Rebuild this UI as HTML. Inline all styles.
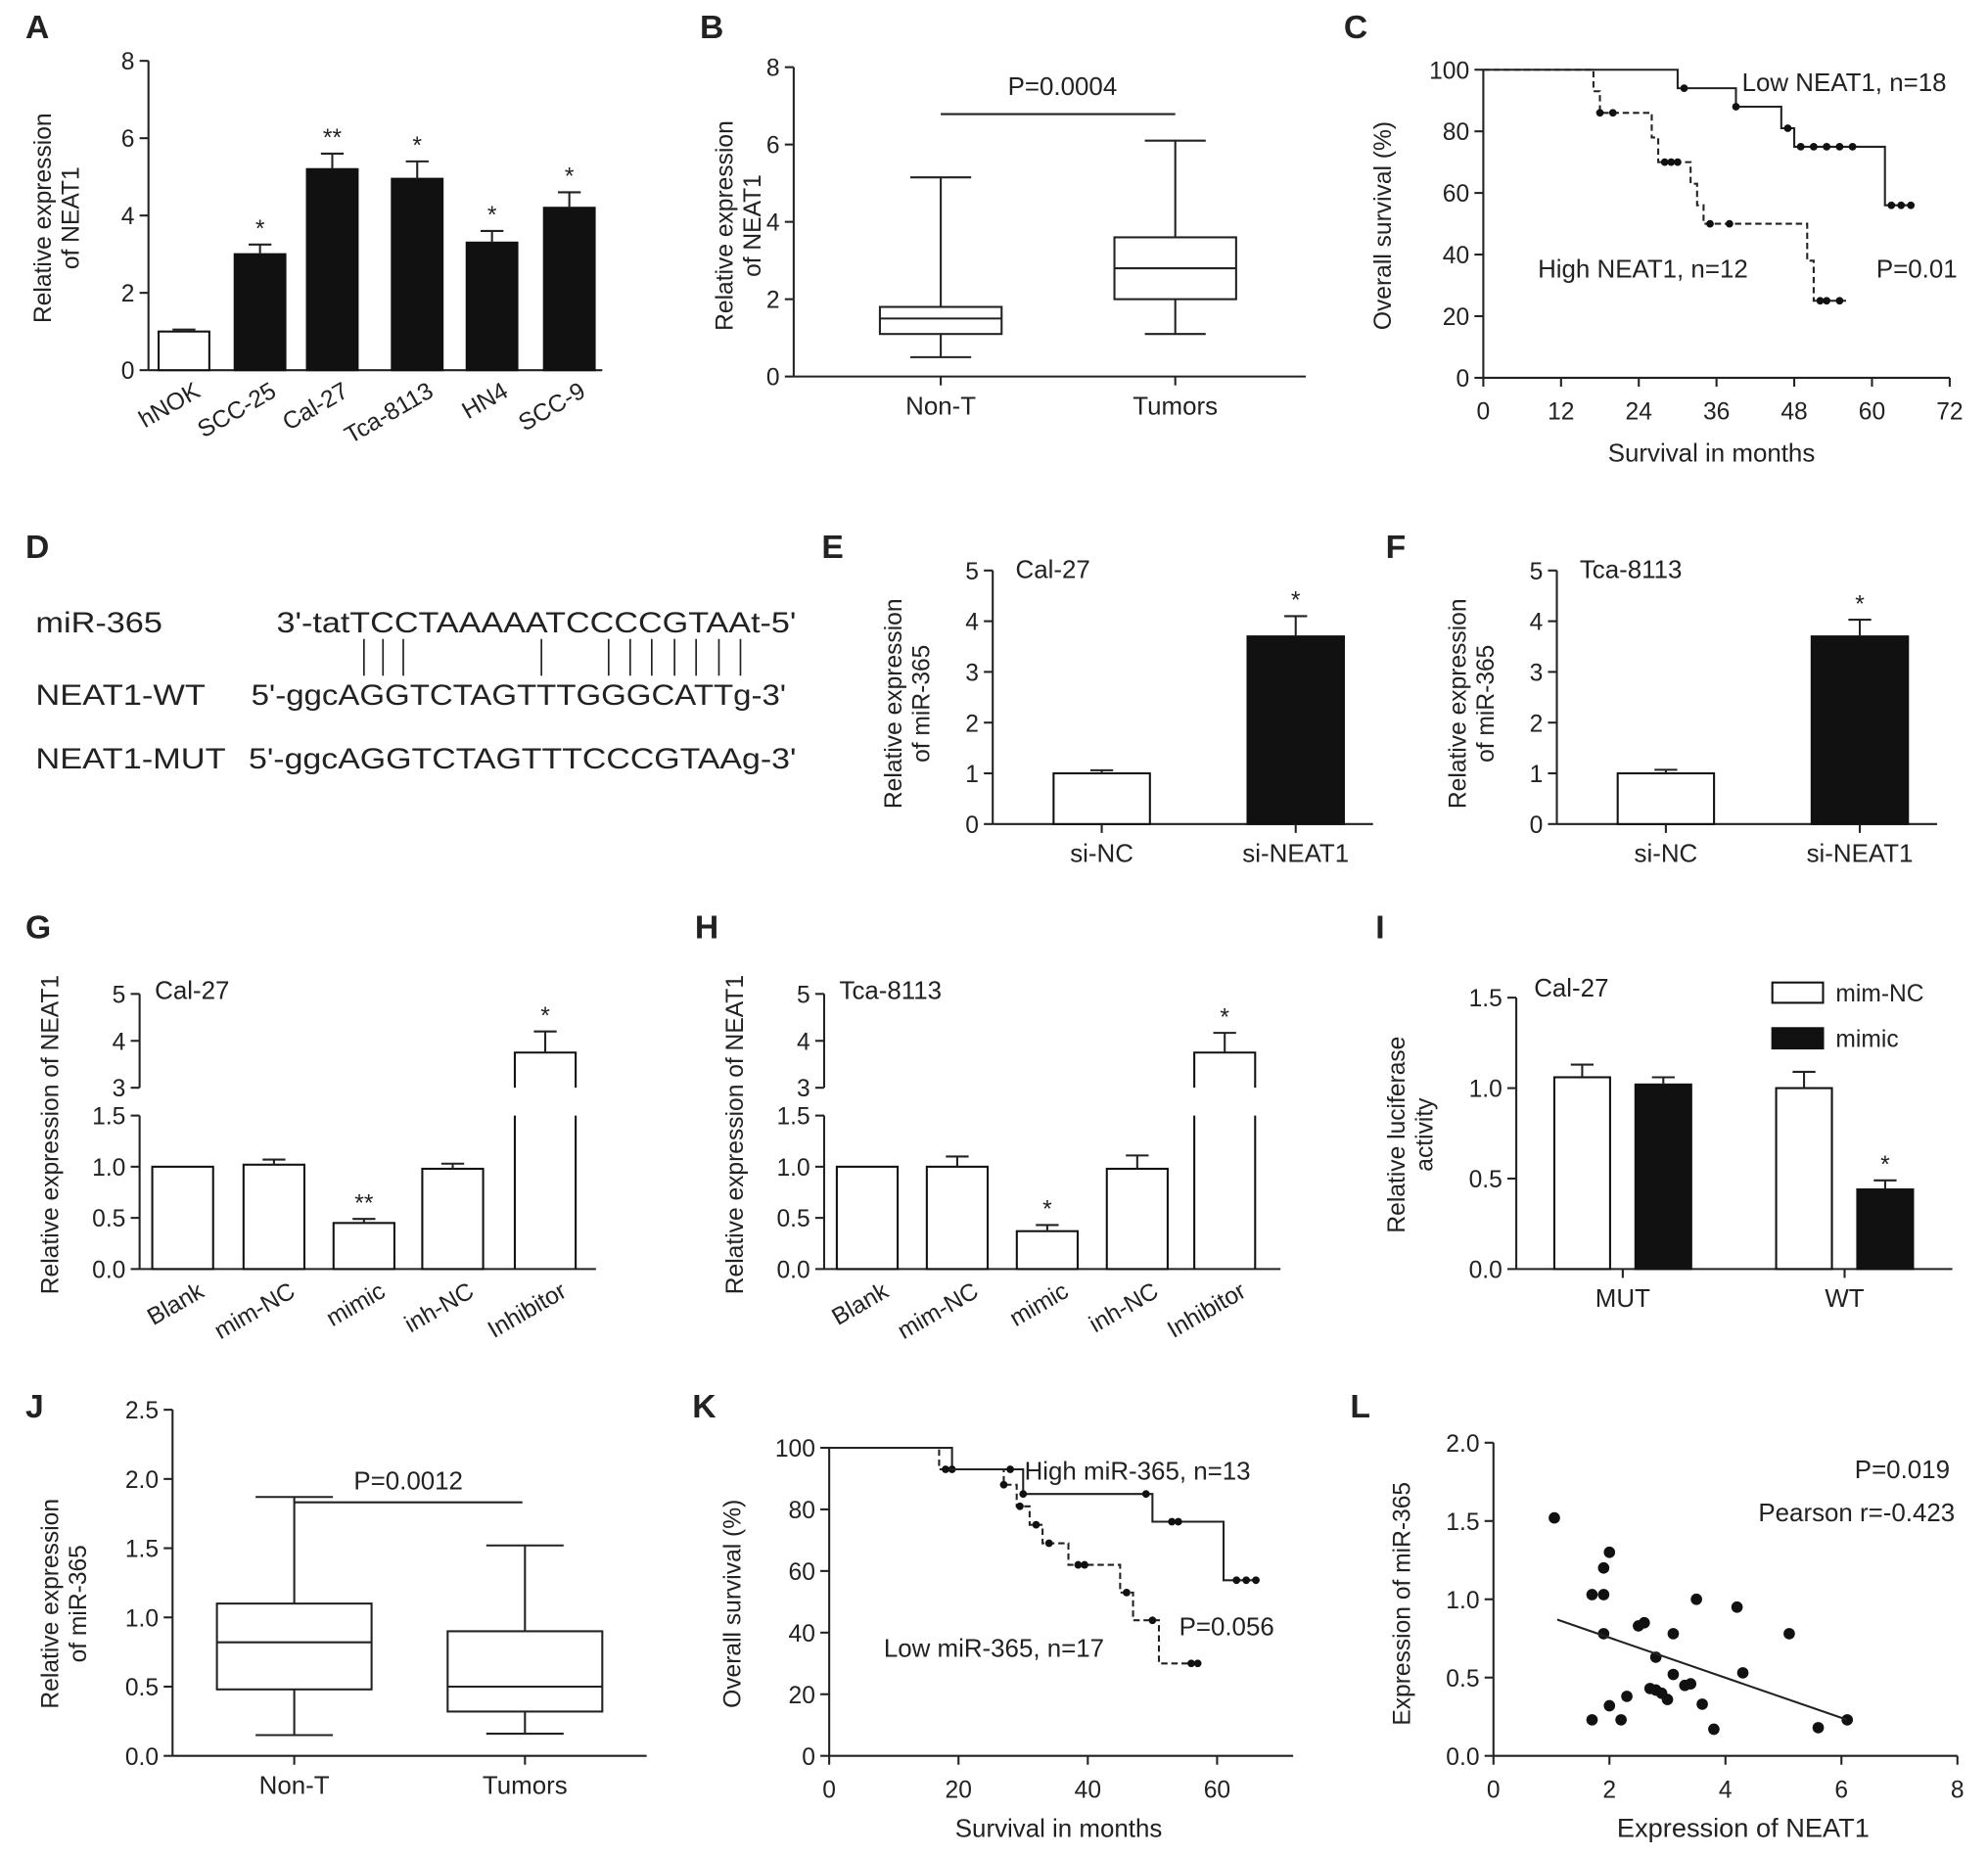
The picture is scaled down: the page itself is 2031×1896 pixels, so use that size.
<!DOCTYPE html>
<html><head><meta charset="utf-8"><style>
html,body{margin:0;padding:0;background:#fff}
svg{display:block}
text{font-family:"Liberation Sans",sans-serif;fill:#222}
</style></head><body>
<svg id="fig" width="2031" height="1896" viewBox="0 0 1568 1464" xmlns="http://www.w3.org/2000/svg"></svg>
<script>
// ---- Data ----
const aCats=["hNOK","SCC-25","Cal-27","Tca-8113","HN4","SCC-9"];
const aVals=[1.0,3.0,5.2,4.95,3.3,4.2];
const aErrs=[0.05,0.25,0.4,0.45,0.3,0.4];
const aStars=["","*","**","*","*","*"];
const bCats=["Non-T","Tumors"];
const bBox=[[0.5,1.1,1.5,1.8,5.15],[1.1,2.0,2.8,3.6,6.1]];
const cLow=[[0,100],[30,94],[39,88],[46,81],[48,75],[62,56],[66,56]];
const cLowCens=[31,39,47,49,51,53,55,57,63,64.5,66];
const cHigh=[[0,100],[17,93],[18,86],[26,78],[27,70],[32,63],[33,56],[34,50],[50,38],[51,25],[56,25]];
const cHighCens=[18,20,28,29,30,35,38,52,53,55];
const eCats=["si-NC","si-NEAT1"];
const eVals=[1.0,3.7];
const eErrs=[0.06,0.4];
const fVals=[1.0,3.7];
const fErrs=[0.07,0.33];
const gCats=["Blank","mim-NC","mimic","inh-NC","Inhibitor"];
const gVals=[1.0,1.02,0.45,0.98,3.75];
const gErrs=[0,0.05,0.04,0.05,0.45];
const gStars=["","","**","","*"];
const hVals=[1.0,1.0,0.37,0.98,3.75];
const hErrs=[0,0.1,0.06,0.13,0.42];
const hStars=["","","*","","*"];
const iCats=["MUT","WT"];
const iNC=[1.06,1.0];
const iNCErr=[0.07,0.09];
const iMim=[1.02,0.44];
const iMimErr=[0.04,0.05];
const jBox=[[0.15,0.48,0.82,1.1,1.87],[0.16,0.32,0.5,0.9,1.52]];
const kHigh=[[0,100],[19,93],[30,85],[50,76],[61,57],[66,57]];
const kHighCens=[19,28,30,49,53,54,63,64.5,66];
const kLow=[[0,100],[17,93],[27,88],[29,81],[31,75],[33,69],[37,62],[45,53],[47,44],[51,30],[57,30]];
const kLowCens=[18,27,29.5,32,34,38.5,39.5,46,50,56,57];
const lX=[1.05,1.7,1.9,1.9,2.0,1.9,1.7,2.0,2.2,2.3,2.5,2.6,2.7,2.8,2.8,2.9,3.0,3.1,3.1,3.3,3.5,3.6,3.4,3.8,4.2,4.3,5.1,5.6,6.1];
const lY=[1.52,1.03,1.03,1.2,1.3,0.78,0.23,0.32,0.23,0.38,0.83,0.85,0.43,0.63,0.42,0.4,0.36,0.52,0.78,0.45,1.0,0.33,0.46,0.17,0.95,0.53,0.78,0.18,0.23];
const lFit=[[1.1,0.87],[6.1,0.23]];

const svg=document.getElementById('fig');
const NS='http://www.w3.org/2000/svg';
function mk(tag,attrs,name,parent,txt){
  const el=document.createElementNS(NS,tag);
  for(const k in attrs)el.setAttribute(k,attrs[k]);
  
  
  if(txt!==undefined)el.textContent=txt;
  (parent||svg).appendChild(el);return el;
}
function line(x1,y1,x2,y2,name,extra){return mk('line',Object.assign({x1,y1,x2,y2,stroke:'#222','stroke-width':1.6},extra||{}),name);}
function text(x,y,s,name,opt){opt=opt||{};const a={x,y,'font-size':opt.fs||19,'text-anchor':opt.anchor||'middle'};if(opt.bold)a['font-weight']='bold';if(opt.rot)a.transform=`rotate(${opt.rot} ${x} ${y})`;if(opt.len){a.textLength=opt.len;a.lengthAdjust='spacingAndGlyphs';}return mk('text',a,name,null,s);}
function yAxis(x,sy,ticks,fmt,name,top,bot){
  line(x,sy(top),x,sy(bot),name+'-y-axis');
  ticks.forEach(t=>{line(x-7,sy(t),x,sy(t),name+'-y-tick');text(x-11,sy(t)+7,fmt(t),name+'-y-tick-label',{anchor:'end'});});
}
function ytitle(x,cy,lines,name){lines.forEach((s,i)=>text(x+i*22,cy,s,name+'-y-title',{rot:-90}));}
function bar(cx,w,y0,y1,fill,name){mk('rect',{x:cx-w/2,y:Math.min(y0,y1),width:w,height:Math.abs(y0-y1),fill:fill,stroke:'#111','stroke-width':1.6},name);}
function err(cx,yv,ye,name){if(Math.abs(ye-yv)<0.5)return;line(cx,yv,cx,ye,name);line(cx-9,ye,cx+9,ye,name);}
function box(cx,w,sy,b,name){
  line(cx,sy(b[0]),cx,sy(b[1]),name+'-whisker');line(cx,sy(b[3]),cx,sy(b[4]),name+'-whisker');
  line(cx-w/4,sy(b[0]),cx+w/4,sy(b[0]),name+'-cap');line(cx-w/4,sy(b[4]),cx+w/4,sy(b[4]),name+'-cap');
  mk('rect',{x:cx-w/2,y:sy(b[3]),width:w,height:sy(b[1])-sy(b[3]),fill:'none',stroke:'#222','stroke-width':1.6},name+'-box');
  line(cx-w/2,sy(b[2]),cx+w/2,sy(b[2]),name+'-median');
}
function km(steps,cens,sx,sy,dash,name){
  let d=`M${sx(steps[0][0])},${sy(steps[0][1])}`;
  for(let i=1;i<steps.length;i++){d+=` H${sx(steps[i][0])} V${sy(steps[i][1])}`;}
  mk('path',{d,fill:'none',stroke:'#222','stroke-width':1.6,'stroke-dasharray':dash?'5,3':'none'},name+'-curve');
  cens.forEach(t=>{let s=steps[0][1];steps.forEach(p=>{if(p[0]<=t)s=p[1];});mk('circle',{cx:sx(t),cy:sy(s),r:3,fill:'#111'},name+'-censor');});
}
// ---- Panel letters ----
[["A",20,30],["B",552,30],["C",1060,30],["D",20,440],["E",648,440],["F",1093,440],["G",20,740],["H",548,740],["I",1085,740],["J",20,1118],["K",546,1118],["L",1065,1118]].forEach(p=>text(p[1],p[2],p[0],'panel-label-'+p[0],{bold:true,fs:26,anchor:'start'}));

// ---- A ----
(function(){const sy=v=>292-v*30.5;const xs=[145,205,262,329,388,449];
yAxis(117,sy,[0,2,4,6,8],t=>t,'a',8,0);line(117,292,475,292,'a-x-axis');
ytitle(40,172,["Relative expression","of NEAT1"],'a');
aVals.forEach((v,i)=>{bar(xs[i],40,sy(0),sy(v),i===0?'#fff':'#111','a-bar-'+aCats[i]);err(xs[i],sy(v),sy(v+aErrs[i]),'a-error-bar');if(aStars[i])text(xs[i],sy(v+aErrs[i])-6,aStars[i],'a-significance');
text(xs[i]+14,312,aCats[i],'a-x-label',{anchor:'end',rot:-30});});})();

// ---- B ----
(function(){const sy=v=>297-v*30.5;const xs=[742,927];
yAxis(626,sy,[0,2,4,6,8],t=>t,'b',8,0);line(626,297,1030,297,'b-x-axis');
ytitle(578,178,["Relative expression","of NEAT1"],'b');
bBox.forEach((b,i)=>{box(xs[i],96,sy,b,'b-'+bCats[i]);line(xs[i],297,xs[i],304,'b-x-tick');text(xs[i],327,bCats[i],'b-x-label',{fs:20});});
line(742,90,927,90,'b-p-line');text(838,75,"P=0.0004",'b-p-value',{fs:20});})();

// ---- C ----
(function(){const sx=t=>1170+t*5.11,sy=v=>298-v*2.43;
yAxis(1170,sy,[0,20,40,60,80,100],t=>t,'c',100,0);line(1170,298,1538,298,'c-x-axis');
[0,12,24,36,48,60,72].forEach(t=>{line(sx(t),298,sx(t),305,'c-x-tick');text(sx(t),331,t,'c-x-tick-label');});
text(1350,364,"Survival in months",'c-x-title',{fs:20});ytitle(1097,178,["Overall survival  (%)"],'c');
km(cLow,cLowCens,sx,sy,false,'c-low');km(cHigh,cHighCens,sx,sy,true,'c-high');
text(1374,72,"Low NEAT1, n=18",'c-legend-low',{anchor:'start',fs:20});
text(1213,219,"High NEAT1, n=12",'c-legend-high',{anchor:'start',fs:20});
text(1480,219,"P=0.01",'c-p-value',{anchor:'start',fs:20});})();

// ---- D ----
(function(){text(28,499,"miR-365",'d-mir-label',{anchor:'start',fs:23,len:100});text(218,499,"3'-tatTCCTAAAAATCCCCGTAAt-5'",'d-mir-seq',{anchor:'start',fs:23,len:410});
text(28,556,"NEAT1-WT",'d-wt-label',{anchor:'start',fs:23,len:134});text(198,556,"5'-ggcAGGTCTAGTTTGGGCATTg-3'",'d-wt-seq',{anchor:'start',fs:23,len:422});
text(28,606,"NEAT1-MUT",'d-mut-label',{anchor:'start',fs:23,len:150});text(196,606,"5'-ggcAGGTCTAGTTTCCCGTAAg-3'",'d-mut-seq',{anchor:'start',fs:23,len:432});
[287,302,318,427,480,497,514,532,549,567,584].forEach(x=>line(x,504,x,533,'d-pairing-line',{'stroke-width':1.3}));})();

// ---- E / F ----
function ef(x0,vals,errs,cell,p){const sy=v=>650-v*40;const xs=[x0+86,x0+239];
yAxis(x0,sy,[0,1,2,3,4,5],t=>t,p,5,0);line(x0,650,x0+300,650,p+'-x-axis');
ytitle(x0-72,555,["Relative expression","of miR-365"],p);text(x0+18,456,cell,p+'-cell-label',{anchor:'start',fs:20});
vals.forEach((v,i)=>{bar(xs[i],76,sy(0),sy(v),i?'#111':'#fff',p+'-bar-'+eCats[i]);err(xs[i],sy(v),sy(v+errs[i]),p+'-error-bar');line(xs[i],650,xs[i],657,p+'-x-tick');text(xs[i],680,eCats[i],p+'-x-label',{fs:20});});
text(xs[1],sy(vals[1]+errs[1])-6,"*",p+'-significance');}
ef(783,eVals,eErrs,"Cal-27",'e');ef(1228,fVals,fErrs,"Tca-8113",'f');

// ---- G / H ----
function gh(x0,xs,vals,errs,stars,cell,p){
  const lo=v=>1001-v*80.7,hi=v=>858-(v-3)*37;const sy=v=>v<=1.5?lo(v):hi(v);
  line(x0,lo(0),x0,lo(1.5),p+'-y-axis-lower');line(x0,hi(3),x0,hi(5),p+'-y-axis-upper');
  [0,0.5,1,1.5].forEach(t=>{line(x0-7,lo(t),x0,lo(t),p+'-y-tick');text(x0-11,lo(t)+7,t.toFixed(1),p+'-y-tick-label',{anchor:'end'});});
  [3,4,5].forEach(t=>{line(x0-7,hi(t),x0,hi(t),p+'-y-tick');text(x0-11,hi(t)+7,t,p+'-y-tick-label',{anchor:'end'});});
  line(x0,1001,x0+360,1001,p+'-x-axis');
  ytitle(x0-64,895,["Relative expression of NEAT1"],p);text(x0+12,788,cell,p+'-cell-label',{anchor:'start',fs:20});
  vals.forEach((v,i)=>{const top=sy(v);
    if(v>1.5){mk('path',{d:`M${xs[i]-24},${lo(0)} V${lo(1.5)} M${xs[i]+24},${lo(0)} V${lo(1.5)} M${xs[i]-24},${hi(3)} V${top} H${xs[i]+24} V${hi(3)}`,fill:'none',stroke:'#111','stroke-width':1.6},p+'-bar-'+gCats[i]);}
    else bar(xs[i],48,lo(0),top,'#fff',p+'-bar-'+gCats[i]);
    err(xs[i],top,sy(v+errs[i]),p+'-error-bar');if(stars[i])text(xs[i],sy(v+errs[i])-6,stars[i],p+'-significance');
    text(xs[i]+18,1022,gCats[i],p+'-x-label',{anchor:'end',rot:-30});});
}
gh(110,[144,216,287,357,430],gVals,gErrs,gStars,"Cal-27",'g');
gh(650,[684,755,826,897,966],hVals,hErrs,hStars,"Tca-8113",'h');

// ---- I ----
(function(){const sy=v=>1001-v*142.7;const cx=[1280,1455];
yAxis(1196,sy,[0,0.5,1,1.5],t=>t.toFixed(1),'i',1.5,0);line(1196,1001,1540,1001,'i-x-axis');
ytitle(1108,895,["Relative luciferase","activity"],'i');text(1210,786,"Cal-27",'i-cell-label',{anchor:'start',fs:20});
iCats.forEach((c,i)=>{bar(cx[i]-32,44,sy(0),sy(iNC[i]),'#fff','i-bar-mimnc-'+c);err(cx[i]-32,sy(iNC[i]),sy(iNC[i]+iNCErr[i]),'i-error-bar');
bar(cx[i]+32,44,sy(0),sy(iMim[i]),'#111','i-bar-mimic-'+c);err(cx[i]+32,sy(iMim[i]),sy(iMim[i]+iMimErr[i]),'i-error-bar');
line(cx[i],1001,cx[i],1008,'i-x-tick');text(cx[i],1031,c,'i-x-label',{fs:20});});
text(cx[1]+32,sy(iMim[1]+iMimErr[1])-6,"*",'i-significance');
mk('rect',{x:1398,y:775,width:40,height:16,fill:'#fff',stroke:'#111','stroke-width':1.6},'i-legend-swatch-mimnc');text(1448,790,"mim-NC",'i-legend-mimnc',{anchor:'start'});
mk('rect',{x:1398,y:811,width:40,height:16,fill:'#111',stroke:'#111','stroke-width':1.6},'i-legend-swatch-mimic');text(1448,826,"mimic",'i-legend-mimic',{anchor:'start'});})();

// ---- J ----
(function(){const sy=v=>1385-v*109.2;const xs=[232,414];
yAxis(136,sy,[0,0.5,1,1.5,2,2.5],t=>t.toFixed(1),'j',2.5,0);line(136,1385,510,1385,'j-x-axis');
ytitle(46,1265,["Relative expression","of miR-365"],'j');
jBox.forEach((b,i)=>{box(xs[i],122,sy,b,'j-'+bCats[i]);line(xs[i],1385,xs[i],1392,'j-x-tick');text(xs[i],1415,bCats[i],'j-x-label',{fs:20});});
line(232,1185,412,1185,'j-p-line');text(322,1175,"P=0.0012",'j-p-value',{fs:20});})();

// ---- K ----
(function(){const sx=t=>654+t*5.1,sy=v=>1385-v*2.43;
yAxis(654,sy,[0,20,40,60,80,100],t=>t,'k',100,0);line(654,1385,1020,1385,'k-x-axis');
[0,20,40,60].forEach(t=>{line(sx(t),1385,sx(t),1392,'k-x-tick');text(sx(t),1418,t,'k-x-tick-label');});
text(835,1449,"Survival in months",'k-x-title',{fs:20});ytitle(584,1265,["Overall survival (%)"],'k');
km(kHigh,kHighCens,sx,sy,false,'k-high');km(kLow,kLowCens,sx,sy,true,'k-low');
text(808,1167,"High miR-365, n=13",'k-legend-high',{anchor:'start',fs:20});
text(697,1307,"Low miR-365, n=17",'k-legend-low',{anchor:'start',fs:20});
text(930,1290,"P=0.056",'k-p-value',{anchor:'start',fs:20});})();

// ---- L ----
(function(){const sx=v=>1178+v*45.75,sy=v=>1385-v*123.5;
yAxis(1178,sy,[0,0.5,1,1.5,2],t=>t.toFixed(1),'l',2,0);line(1178,1385,1544,1385,'l-x-axis');
[0,2,4,6,8].forEach(t=>{line(sx(t),1385,sx(t),1392,'l-x-tick');text(sx(t),1418,t,'l-x-tick-label');});
text(1375,1449,"Expression of NEAT1",'l-x-title',{fs:21});ytitle(1112,1265,["Expression of miR-365"],'l');
lX.forEach((x,i)=>mk('circle',{cx:sx(x),cy:sy(lY[i]),r:4.5,fill:'#111'},'l-point'));
line(sx(lFit[0][0]),sy(lFit[0][1]),sx(lFit[1][0]),sy(lFit[1][1]),'l-fit-line');
text(1538,1166,"P=0.019",'l-p-value',{anchor:'end',fs:20});text(1542,1200,"Pearson r=-0.423",'l-pearson',{anchor:'end',fs:20});})();
</script>
</body></html>
